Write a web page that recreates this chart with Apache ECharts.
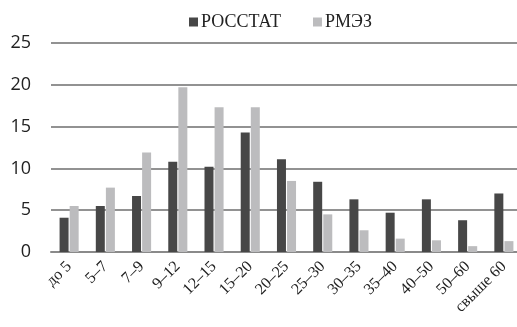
<!DOCTYPE html>
<html>
<head>
<meta charset="utf-8">
<script src="https://cdn.jsdelivr.net/npm/echarts@6/dist/echarts.min.js"></script>
<style>
  html, body { margin: 0; padding: 0; background: #fff; overflow: hidden; }
  #chart { width: 522px; height: 327px; }
</style>
</head>
<body>
<div id="chart"></div>
<script>
// Income groups and shares (%) by source
const categories = ['до 5', '5–7', '7–9', '9–12', '12–15', '15–20', '20–25', '25–30', '30–35', '35–40', '40–50', '50–60', 'свыше 60'];
const rosstat = [4.1, 5.5, 6.7, 10.8, 10.2, 14.3, 11.1, 8.4, 6.3, 4.7, 6.3, 3.8, 7.0];
const rmez = [5.5, 7.7, 11.9, 19.7, 17.3, 17.3, 8.5, 4.5, 2.6, 1.6, 1.4, 0.7, 1.3];
const yTicks = [0, 5, 10, 15, 20, 25];

const chart = echarts.init(document.getElementById('chart'));
chart.setOption({
  animation: false,
  legend: {
    top: 8,
    left: 184,
    itemWidth: 9,
    itemHeight: 9,
    itemGap: 32,
    icon: 'rect',
    textStyle: { fontFamily: 'Liberation Serif', fontSize: 18, color: '#222', padding: [0, 0, 0, -2] },
    data: ['РОССТАТ', 'РМЭЗ']
  },
  grid: { left: 51, right: 0, top: 43, bottom: 75 },
  xAxis: {
    type: 'category',
    data: categories,
    axisLine: { lineStyle: { color: '#8a8a8a', width: 2 } },
    axisTick: { show: false },
    axisLabel: {
      rotate: 45,
      interval: 0,
      margin: 12,
      fontFamily: 'Liberation Serif',
      fontSize: 16,
      color: '#222'
    }
  },
  yAxis: {
    type: 'value',
    min: yTicks[0],
    max: yTicks[yTicks.length - 1],
    interval: 5,
    axisLine: { show: false },
    axisTick: { show: false },
    axisLabel: { fontFamily: 'Open Sans', fontSize: 18, color: '#222', margin: 20 },
    splitLine: { lineStyle: { color: '#6e6e6e', width: 1.5 } }
  },
  series: [
    {
      name: 'РОССТАТ',
      type: 'bar',
      data: rosstat,
      barWidth: 9,
      barGap: '12%',
      itemStyle: { color: '#474747' }
    },
    {
      name: 'РМЭЗ',
      type: 'bar',
      data: rmez,
      barWidth: 9,
      itemStyle: { color: '#bcbcbe' }
    }
  ]
});
</script>
</body>
</html>
